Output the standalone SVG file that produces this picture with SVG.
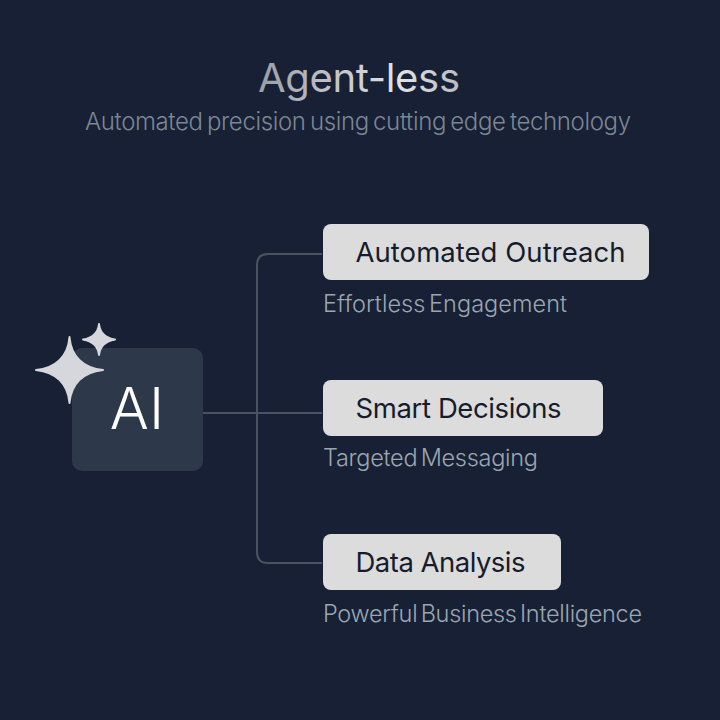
<svg xmlns="http://www.w3.org/2000/svg" width="720" height="720" viewBox="0 0 720 720">
<style>
text{font-family:Inter,"Noto Sans","Liberation Sans",sans-serif}
.box{fill:#dcdcdc}
.lab{font-size:27.500px;fill:#161c2d;font-weight:400}
.sub{font-size:23.500px;fill:#9aa6b1;font-weight:300;word-spacing:-3px}
.line{fill:none;stroke:#4b5361;stroke-width:2}
.star{fill:#d6d7dc;stroke:#d6d7dc;stroke-width:2;stroke-linejoin:round}
</style>
<defs>
<linearGradient id="tg" x1="258" x2="460" y1="0" y2="0" gradientUnits="userSpaceOnUse"><stop offset="0" stop-color="#9b9ea6"/><stop offset=".7" stop-color="#e2e3e5"/><stop offset="1" stop-color="#b9bbc0"/></linearGradient>
</defs>
<rect width="720" height="720" fill="#172034"/>
<g id="title">
<text x="258" y="92" font-size="40" font-weight="400" fill="url(#tg)" textLength="202" lengthAdjust="spacing">Agent-less</text>
<text x="85" y="130" font-size="24" font-weight="300" fill="#7c8794" word-spacing="-2" textLength="546" lengthAdjust="spacing">Automated precision using cutting edge technology</text>
</g>
<g id="connectors">
<path class="line" d="M203 413H322"/>
<path class="line" d="M322 254H268Q257 254 257 265V552Q257 563 268 563H322"/>
</g>
<g id="ai">
<rect x="72" y="348" width="131" height="123" rx="10" fill="#2d394b"/>
<text x="137" y="429" text-anchor="middle" font-size="58" font-weight="300" fill="#fff">AI</text>
<path class="star" d="M69.500 337C71 356 83 368 103 370C83 372 71 384 69.500 403C68 384 56 372 36 370C56 368 68 356 69.500 337Z"/>
<path class="star" d="M99 324C100 333 106 338 115 339.500C106 341 100 346 99 355C98 346 92 341 83 339.500C92 338 98 333 99 324Z"/>
</g>
<g id="n1">
<rect class="box" x="323" y="224" width="326" height="56" rx="8"/>
<text class="lab" x="355.500" y="262" textLength="270" lengthAdjust="spacing">Automated Outreach</text>
<text class="sub" x="323" y="312" textLength="244" lengthAdjust="spacing">Effortless Engagement</text>
</g>
<g id="n2">
<rect class="box" x="323" y="380" width="280" height="56" rx="8"/>
<text class="lab" x="355.500" y="418" textLength="206" lengthAdjust="spacing">Smart Decisions</text>
<text class="sub" x="323" y="466" textLength="215" lengthAdjust="spacing">Targeted Messaging</text>
</g>
<g id="n3">
<rect class="box" x="323" y="534" width="238" height="56" rx="8"/>
<text class="lab" x="355.500" y="572" textLength="170" lengthAdjust="spacing">Data Analysis</text>
<text class="sub" x="323" y="622" textLength="319" lengthAdjust="spacing">Powerful Business Intelligence</text>
</g>
</svg>
